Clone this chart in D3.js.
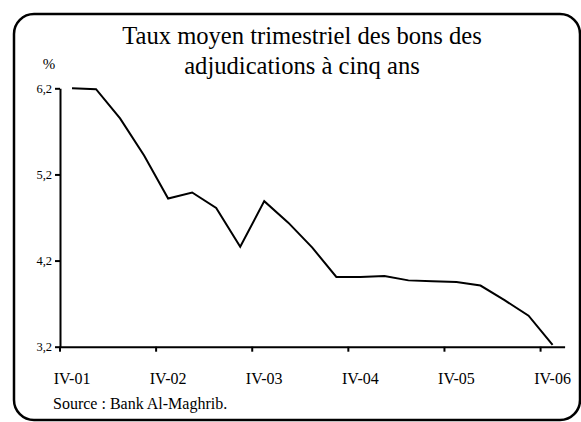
<!DOCTYPE html>
<html>
<head>
<meta charset="utf-8">
<script src="https://cdn.jsdelivr.net/npm/d3@7"></script>
<style>
  body { margin: 0; background: #fff; }
  svg { display: block; font-family: "Liberation Serif", "Times New Roman", serif; }
  svg text { font-family: "Liberation Serif", "Times New Roman", serif; fill: #000; }
</style>
</head>
<body>
<script>
(function() {
    "use strict";

    //quarters from IV-01 to IV-06
    var quarters = ["IV-01", "I-02", "II-02", "III-02", "IV-02", "I-03", "II-03", "III-03",
                    "IV-03", "I-04", "II-04", "III-04", "IV-04", "I-05", "II-05", "III-05",
                    "IV-05", "I-06", "II-06", "III-06", "IV-06"];
    //average rate, in %
    var rates = [6.20, 6.19, 5.85, 5.42, 4.92, 4.99, 4.81, 4.36, 4.89, 4.64, 4.35,
                 4.01, 4.01, 4.02, 3.97, 3.96, 3.95, 3.91, 3.74, 3.56, 3.22];
    var yTicks = [3.2, 4.2, 5.2, 6.2];
    var xLabels = ["IV-01", "IV-02", "IV-03", "IV-04", "IV-05", "IV-06"];

    var WIDTH = 581, HEIGHT = 422;
    var LEFT = 60, RIGHT = 564.6, TOP = 88.3, BOTTOM = 346.7;

    var svg = d3.select("body").append("svg")
        .attr("width", WIDTH)
        .attr("height", HEIGHT);

    //rounded frame round the whole chart
    svg.append("rect")
        .attr("x", 14).attr("y", 14)
        .attr("width", 566).attr("height", 406)
        .attr("rx", 20).attr("ry", 20)
        .attr("fill", "#fff")
        .attr("stroke", "#000")
        .attr("stroke-width", 2.5);

    var x = d3.scaleBand().domain(quarters).range([LEFT, RIGHT]).padding(0);
    var y = d3.scaleLinear().domain([3.2, 6.2]).range([BOTTOM, TOP]);
    var bw = x.bandwidth();

    var fr = d3.formatLocale({decimal: ",", thousands: " ", grouping: [3], currency: ["", ""]});
    var fmt = fr.format(".1f");

    //y axis
    var yAxis = svg.append("g")
        .attr("transform", "translate(" + LEFT + ",0)")
        .call(d3.axisLeft(y).tickValues(yTicks).tickFormat(fmt).tickSize(5).tickSizeOuter(0).tickPadding(3));

    //x axis, ticks on the boundaries of every fourth quarter
    var xAxis = svg.append("g")
        .attr("transform", "translate(0," + BOTTOM + ")")
        .call(d3.axisBottom(x).tickValues(xLabels).tickSize(5).tickSizeOuter(0).tickPadding(21));
    xAxis.selectAll(".tick line").attr("x1", -bw / 2).attr("x2", -bw / 2);

    [yAxis, xAxis].forEach(function(ax) {
        ax.select(".domain").attr("stroke", "#000").attr("stroke-width", 2);
        ax.selectAll(".tick line").attr("stroke", "#000").attr("stroke-width", 2);
    });
    yAxis.selectAll(".tick text").style("font-size", "12.5px");
    xAxis.selectAll(".tick text").style("font-size", "16px");

    //rate line
    var line = d3.line()
        .x(function(d, i) { return x(quarters[i]) + bw / 2; })
        .y(function(d) { return y(d); });

    svg.append("path")
        .datum(rates)
        .attr("d", line)
        .attr("fill", "none")
        .attr("stroke", "#000")
        .attr("stroke-width", 2)
        .attr("stroke-linejoin", "miter");

    //titles and source
    svg.append("text")
        .attr("x", 302).attr("y", 44)
        .attr("text-anchor", "middle")
        .style("font-size", "24.6px")
        .text("Taux moyen trimestriel des bons des");
    svg.append("text")
        .attr("x", 302).attr("y", 74)
        .attr("text-anchor", "middle")
        .style("font-size", "24.6px")
        .text("adjudications à cinq ans");
    svg.append("text")
        .attr("x", 49).attr("y", 69)
        .attr("text-anchor", "middle")
        .style("font-size", "15px")
        .text("%");
    svg.append("text")
        .attr("x", 53).attr("y", 409)
        .style("font-size", "16px")
        .text("Source : Bank Al-Maghrib.");
}());
</script>
</body>
</html>
